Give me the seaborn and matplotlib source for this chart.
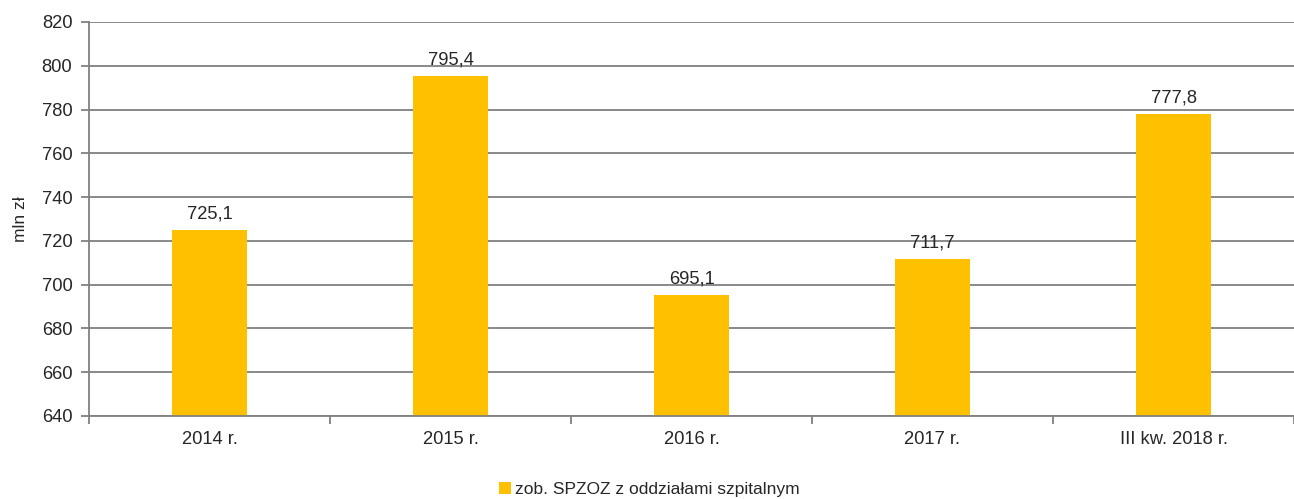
import matplotlib
matplotlib.use('Agg')
import matplotlib.pyplot as plt
import seaborn as sns
import pandas as pd
import numpy as np

# data
categories = ['2014 r.', '2015 r.', '2016 r.', '2017 r.', 'III kw. 2018 r.']
values = [725.1, 795.4, 695.1, 711.7, 777.8]
labels = ['725,1', '795,4', '695,1', '711,7', '777,8']
series_name = 'zob. SPZOZ z oddziałami szpitalnym'

df = pd.DataFrame({'kat': categories, 'val': values, 'ser': series_name})

sns.set_style('white')
plt.rcParams['font.family'] = ['Liberation Sans', 'DejaVu Sans']

grey = '#808080'
bar_color = '#FFC000'
txt = '#262626'
fs = 13.2

fig = plt.figure(figsize=(12.94, 4.99), dpi=100)
ax = fig.add_axes([89 / 1294, 1 - 416 / 499, 1 - 89 / 1294, (416 - 22) / 499])

sns.barplot(data=df, x='kat', y='val', hue='ser', palette=[bar_color],
            width=0.315, ax=ax, saturation=1, legend=True, linewidth=0)

ax.set_ylim(640, 820)
ax.set_yticks(np.arange(640, 821, 20))
ax.set_xlim(-0.5, 4.475)
ax.yaxis.grid(True, color=grey, linewidth=1.3)
ax.set_axisbelow(True)

for s in ['top', 'right']:
    ax.spines[s].set_visible(False)
ax.spines['left'].set_color(grey)
ax.spines['left'].set_linewidth(1.3)
ax.spines['bottom'].set_color(grey)
ax.spines['bottom'].set_linewidth(1.3)

# x ticks on category boundaries, labels centered
ax.set_xticks(np.arange(-0.5, 4.6, 1.0))
ax.set_xticklabels([])
ax.set_xticks(range(len(categories)), minor=True)
ax.set_xticklabels(categories, minor=True, fontsize=fs, color=txt)
ax.tick_params(axis='x', which='major', direction='out', length=6, color=grey, width=1.3, bottom=True)
ax.tick_params(axis='x', which='minor', length=0, pad=11)
ax.tick_params(axis='y', direction='out', length=6, color=grey, width=1.3, left=True,
               labelsize=fs, labelcolor=txt, pad=6)

ax.set_xlabel('')
ax.set_ylabel('mln zł', fontsize=12.5, color=txt, labelpad=10)

for i, (v, t) in enumerate(zip(values, labels)):
    ax.text(i, v + 3.5, t, ha='center', va='bottom', fontsize=fs, color=txt)

ax.legend(loc='lower center', bbox_to_anchor=(0.465, -0.245), frameon=False,
          fontsize=12.5, handlelength=0.7, handleheight=0.7, handletextpad=0.2,
          labelcolor=txt)

fig.savefig('out.png', dpi=100)
